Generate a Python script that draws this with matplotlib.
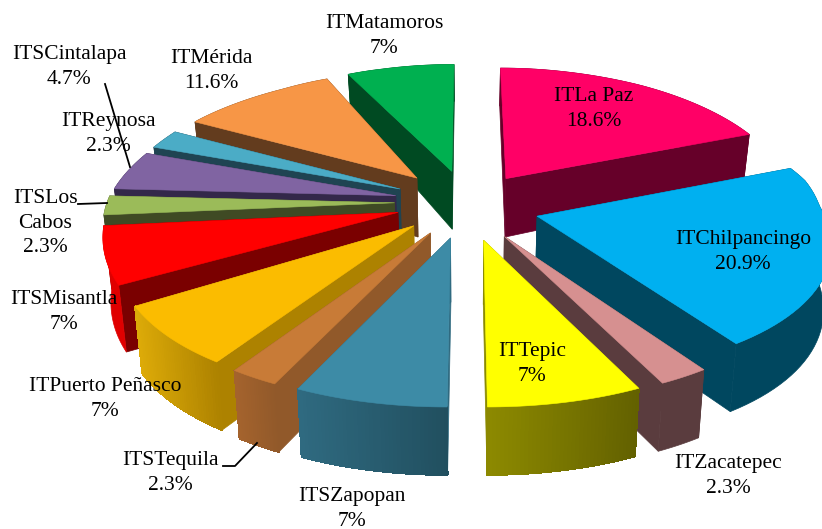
import numpy as np
import matplotlib
matplotlib.use('Agg')
import matplotlib.pyplot as plt
from matplotlib.colors import to_rgb
from matplotlib.patches import Polygon

plt.rcParams['font.family'] = ['Liberation Serif', 'DejaVu Serif']

# datos
names = ['ITLa Paz', 'ITChilpancingo', 'ITZacatepec', 'ITTepic', 'ITSZapopan', 'ITSTequila',
         'ITPuerto Peñasco', 'ITSMisantla', 'ITSLos\nCabos', 'ITSCintalapa', 'ITReynosa',
         'ITMérida', 'ITMatamoros']
values = [18.6, 20.9, 2.3, 7, 7, 2.3, 7, 7, 2.3, 4.7, 2.3, 11.6, 7]
pct_labels = ['18.6%', '20.9%', '2.3%', '7%', '7%', '2.3%', '7%', '7%', '2.3%', '4.7%', '2.3%', '11.6%', '7%']

top_colors = ['#FF0066', '#00B0F0', '#D69090', '#FFFF00', '#3D8BA6', '#C87B37', '#FBBC00',
              '#FF0000', '#9BBB59', '#8064A2', '#4BACC6', '#F79646', '#00B050']
side_colors = ['#660029', '#00475F', '#5A3C3E', '#8B8B00', '#2F6A80', '#91592A', '#AD8200',
               '#7A0000', '#3F4A24', '#33284A', '#1F4452', '#633C1E', '#004A22']
wall_left = ['#660029', '#00475F', '#5A3C3E', '#8D8A00', '#2F6A80', '#A4632D', '#DCAA08',
             '#E00000', '#3F4A24', '#33284A', '#1F4452', '#633C1E', '#004A22']
wall_right = ['#660029', '#00475F', '#5A3C3E', '#636100', '#214F5F', '#91592A', '#AD8200',
              '#E00000', '#3F4A24', '#33284A', '#1F4452', '#633C1E', '#004A22']

draw_order = [12, 0, 11, 10, 9, 8, 7, 6, 5, 4, 1, 2, 3]

label_xy = {0: (594, 109), 1: (743, 252), 2: (728, 476), 3: (532, 364), 4: (352, 509), 5: (170, 473),
            6: (105, 399), 7: (64, 312), 8: (45, 223), 9: (69, 67), 10: (108, 134), 11: (211, 71),
            12: (384, 36)}

# proyeccion
cx, cy = 467, 206
Rx, Ry = 284, 133
persp = 0.139
persp_x = 0.17
explode = 0.255
warp = 4.3
start_nudge = {7: 2, 12: -2}  # grados, borde inicial de algunos sectores


def ground(theta):
    t = np.radians(theta + warp * np.sin(np.radians(theta) / 2) ** 2)
    return np.sin(t), np.cos(t)


def project(u, v):
    u, v = np.asarray(u, float), np.asarray(v, float)
    # el lado izquierdo queda un poco mas alto y estrecho atras en el original
    side = np.clip(-u, 0, None)
    lift = 12 * np.sqrt(side / 1.2) * np.where(v < 0, np.clip(1.15 + v, 0, 1), np.clip((1.2 - v) / 0.6, 0, 1))
    narrow = 1 - 0.06 * np.clip(v, 0, None) * np.clip((side - 0.4) / 0.4, 0, 1)
    wide = 1 + 0.02 * np.clip(v / 0.2, 0, 1) * np.clip((u - 0.4) / 0.3, 0, 1)
    return cx + Rx * u * narrow * wide / (1 + persp_x * v), cy - Ry * v / (1 + persp * v) - lift


def project_low(u, v):
    x, y = project(u, v)
    h = 61.3 - 12.45 * v - 5.7 * v ** 2
    return cx + (x - cx) * 0.978, y + h


fig = plt.figure(figsize=(8.22, 5.29), dpi=100)
ax = fig.add_axes([0, 0, 1, 1])
ax.set_xlim(0, 822)
ax.set_ylim(529, 0)
ax.axis('off')

edges = np.concatenate([[0], np.cumsum(values)]) / np.sum(values) * 360

for i in draw_order:
    a0, a1 = edges[i], edges[i + 1]
    mu, mv = ground((a0 + a1) / 2)
    ou, ov = mu * explode, mv * explode
    ts = np.linspace(a0 + start_nudge.get(i, 0), a1, 40)
    su, sv = ground(ts)
    au, av = su + ou, sv + ov

    ax_, ay_ = project(ou, ov)
    bx_, by_ = project_low(ou, ov)
    tx, ty = project(au, av)
    lx, ly = project_low(au, av)

    # caras radiales
    for j in (0, -1):
        ax.add_patch(Polygon([(ax_, ay_), (tx[j], ty[j]), (lx[j], ly[j]), (bx_, by_)],
                             fc=side_colors[i], ec=side_colors[i], lw=0.5))

    # pared exterior con degradado
    c_l, c_r = np.array(to_rgb(wall_left[i])), np.array(to_rgb(wall_right[i]))
    ax.add_patch(Polygon(list(zip(tx, ty)) + list(zip(lx[::-1], ly[::-1])),
                         fc=(c_l + c_r) / 2, ec=(c_l + c_r) / 2, lw=0.5))
    if wall_left[i] != wall_right[i]:
        span = max(tx.max() - tx.min(), 1)
        for k in range(len(ts) - 1):
            f = ((tx[k] + tx[k + 1]) / 2 - tx.min()) / span
            c = c_l * (1 - f) + c_r * f
            ax.add_patch(Polygon([(tx[k], ty[k]), (tx[k + 1], ty[k + 1]), (lx[k + 1], ly[k + 1]), (lx[k], ly[k])],
                                 fc=c, ec=c, lw=0.6, antialiased=False))

    # cara superior
    pts = [(ax_, ay_)] + list(zip(tx, ty))
    ax.add_patch(Polygon(pts, fc=top_colors[i], ec=top_colors[i], lw=0.4))

# lineas guia
ax.plot([105, 130], [84, 167], color='black', lw=1.3)
ax.plot([78, 107], [204, 203], color='black', lw=1.3)
ax.plot([223, 235, 257], [466, 466, 443], color='black', lw=1.3)

for i, (x, y) in label_xy.items():
    ax.text(x, y, names[i] + '\n' + pct_labels[i], ha='center', va='center', fontsize=15.5,
            color='black', linespacing=1.36, zorder=10)

fig.savefig('out.png', dpi=100)
